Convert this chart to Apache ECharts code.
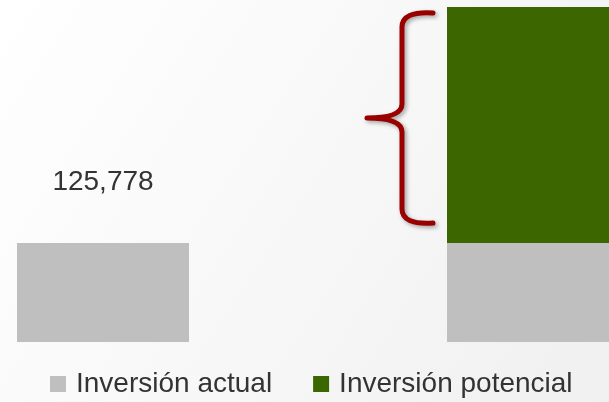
<!DOCTYPE html>
<html>
<head>
<meta charset="utf-8">
<script src="https://cdn.jsdelivr.net/npm/echarts@6/dist/echarts.min.js"></script>
<style>
  html, body { margin: 0; padding: 0; }
  #chart { width: 609px; height: 402px; }
</style>
</head>
<body>
<div id="chart"></div>
<script>
// datos
const categories = ['Actual', 'Potencial'];
const seriesNames = ['Inversión actual', 'Inversión potencial'];
const inversionActual = [125778, 125778];
const inversionPotencial = ['-', 300000];

const FONT = '"Liberation Sans", Arial, sans-serif';
const BAR_W = 172;

const chart = echarts.init(document.getElementById('chart'));

// la segunda barra queda recortada por el borde derecho
const option = {
  backgroundColor: {
    type: 'linear', x: 0, y: 0, x2: 1, y2: 1,
    colorStops: [
      { offset: 0, color: '#ffffff' },
      { offset: 1, color: '#f0f0f0' }
    ]
  },
  animation: false,
  grid: { left: -112, right: -139, top: 7, bottom: 60, outerBoundsMode: 'none' },
  legend: {
    left: 45,
    top: 365,
    itemWidth: 16,
    itemHeight: 16,
    itemGap: 41,
    icon: 'rect',
    textStyle: { fontFamily: FONT, fontSize: 28, color: '#333333', padding: [0, 0, 0, 5] },
    data: seriesNames
  },
  xAxis: {
    type: 'category',
    data: categories,
    show: false
  },
  yAxis: {
    type: 'value',
    show: false,
    min: 0,
    max: 'dataMax'
  },
  series: [
    {
      name: seriesNames[0],
      type: 'bar',
      stack: 'total',
      barWidth: BAR_W,
      data: inversionActual,
      itemStyle: { color: '#bfbfbf' },
      label: {
        show: true,
        position: 'top',
        distance: 47,
        fontFamily: FONT,
        fontSize: 28,
        color: '#333333',
        formatter: p => p.dataIndex === 0 ? p.value.toLocaleString('en-US') : ''
      }
    },
    {
      name: seriesNames[1],
      type: 'bar',
      stack: 'total',
      barWidth: BAR_W,
      data: inversionPotencial,
      itemStyle: { color: '#3b6600' }
    },
    {
      // llave roja junto al tramo potencial
      type: 'custom',
      silent: true,
      z: 10,
      data: [[1, inversionActual[1], inversionActual[1] + inversionPotencial[1]]],
      renderItem: (params, api) => {
        const pTop = api.coord([api.value(0), api.value(2)]);
        const pBot = api.coord([api.value(0), api.value(1)]);
        const barLeft = pTop[0] - BAR_W / 2;
        const x0 = barLeft - 14;
        const xv = x0 - 31;
        const xt = x0 - 66;
        const yTop = pTop[1] + 6;
        const yBot = pBot[1] - 20;
        const yMid = (yTop + yBot) / 2;
        const d =
          `M${x0},${yTop} Q${xv},${yTop - 2} ${xv},${yTop + 14} L${xv},${yMid - 14} Q${xv},${yMid} ${xt},${yMid} ` +
          `M${x0},${yBot} Q${xv},${yBot + 2} ${xv},${yBot - 14} L${xv},${yMid + 14} Q${xv},${yMid} ${xt},${yMid}`;
        return {
          type: 'path',
          shape: { pathData: d },
          style: {
            fill: null,
            stroke: '#990000',
            lineWidth: 5,
            lineCap: 'round',
            lineJoin: 'round',
            shadowBlur: 4,
            shadowColor: 'rgba(0,0,0,0.35)',
            shadowOffsetX: 2,
            shadowOffsetY: 2
          }
        };
      }
    }
  ]
};

chart.setOption(option);
</script>
</body>
</html>
